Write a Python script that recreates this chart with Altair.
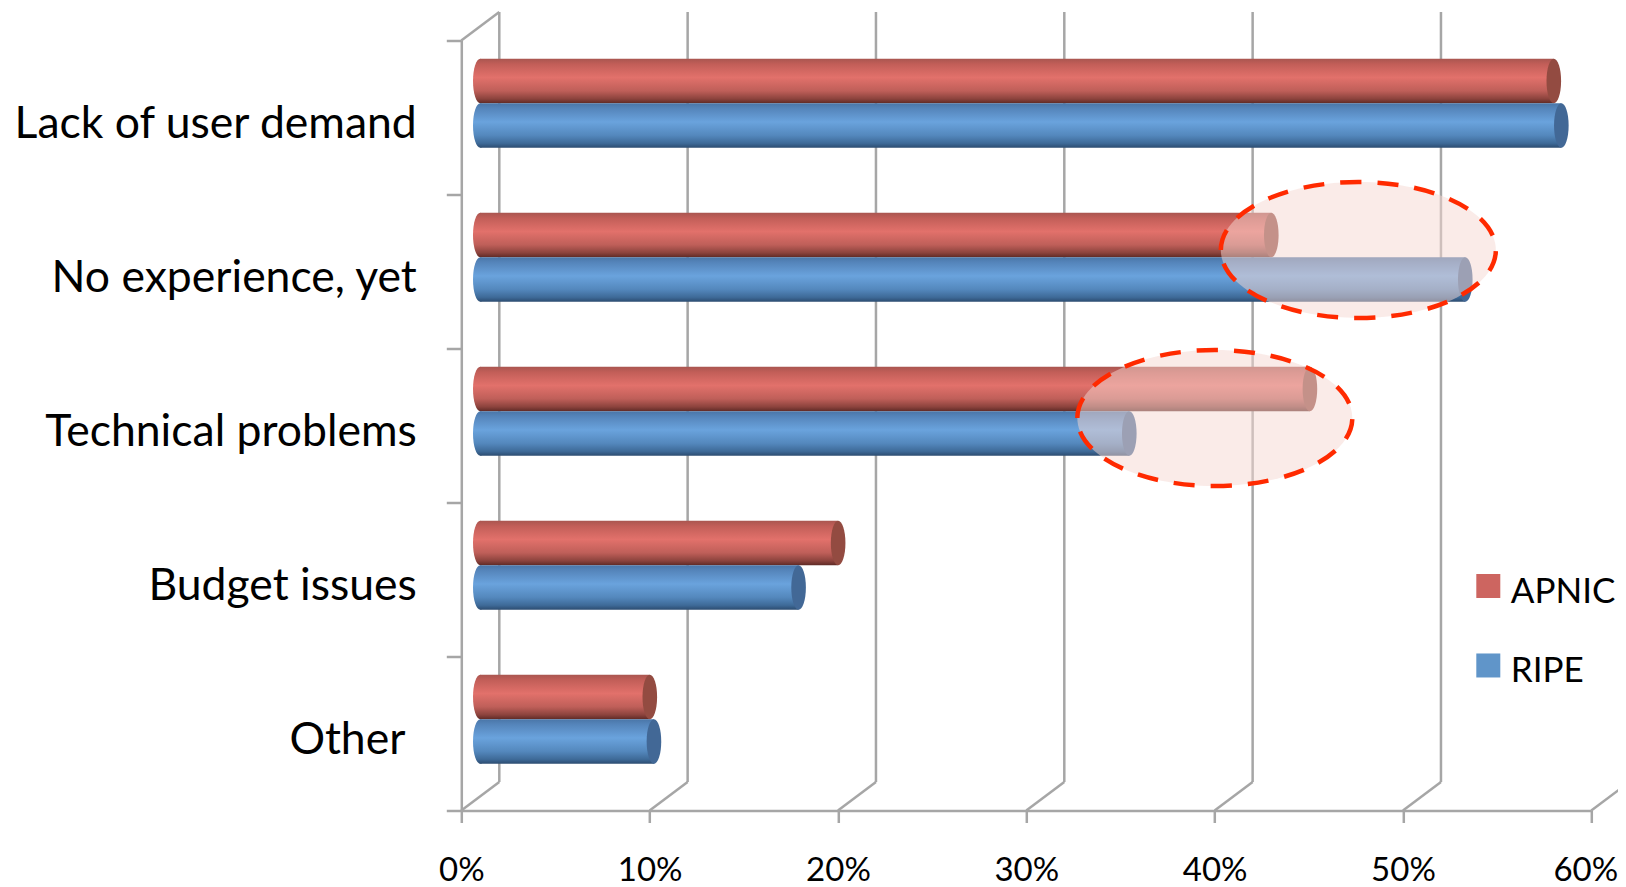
import altair as alt
import pandas as pd

categories = ["Lack of user demand", "No experience, yet", "Technical problems", "Budget issues", "Other"]
apnic = [0.570, 0.420, 0.4405, 0.190, 0.090]
ripe = [0.574, 0.523, 0.3446, 0.169, 0.0922]
series = ["APNIC", "RIPE"]
legend_colors = ["#cd6560", "#6095c9"]
ticks = [0, 0.1, 0.2, 0.3, 0.4, 0.5, 0.6]
highlight_x = [0.4763, 0.4001]

W, H = 1130, 770
DX, DY = 38, -28.5
BX, BY = DX / 2, DY / 2
BAR_H = 44.5
GRID = "#a6a6a6"
FONT = "Lato"
LW = 2.5

df = pd.DataFrame({"cat": categories, "APNIC": apnic, "RIPE": ripe})
tk = pd.DataFrame({"v": ticks})
X = alt.X("v:Q", scale=alt.Scale(domain=[0, 0.6], range=[0, W], nice=False), title=None,
          axis=alt.Axis(values=ticks, format=".0%", grid=False, domainColor=GRID, domainWidth=LW,
                        tickColor=GRID, tickWidth=LW, tickSize=12, labelFontSize=33, labelFont=FONT,
                        labelColor="#000000", labelPadding=32, labelFlush=False, labelOverlap=False,
                        labelOffset={"condition": {"test": "datum.value >= 0.6", "value": -6}, "value": 0}))
Y = alt.Y("cat:N", sort=categories, scale=alt.Scale(domain=categories, range=[0, H], paddingInner=0, paddingOuter=0), title=None,
          axis=alt.Axis(tickBand="extent", domainColor=GRID, domainWidth=LW, tickColor=GRID, tickWidth=LW,
                        tickSize=15, labelFontSize=44.5, labelFont=FONT, labelColor="#000000",
                        labelOffset=7, labelLimit=600,
                        labelPadding={"condition": {"test": "datum.value === 'Other'", "value": 41.4}, "value": 30}))


def grad(stops):
    return alt.LinearGradient(gradient="linear", x1=0, x2=0, y1=0, y2=1,
                              stops=[alt.GradientStop(offset=o, color=c) for o, c in stops])


red = grad([(0, "#a95650"), (0.12, "#c25e58"), (0.42, "#e2716b"), (0.72, "#bf5f59"), (0.9, "#8c433d"), (1, "#5f2a26")])
blue = grad([(0, "#4a76a8"), (0.12, "#5585bb"), (0.42, "#6aa3dd"), (0.72, "#5488bd"), (0.9, "#3e6a98"), (1, "#2c4c70")])
cap_red, cap_blue = "#934b41", "#426896"

CAP = "M0,-1A0.328,1 0 1,0 0,1A0.328,1 0 1,0 0,-1Z"
ELL = "M-1,0A1,0.4945 0 1,1 1,0A1,0.4945 0 1,1 -1,0Z"
LEGEND_SQUARE = "M-1,-1.46H1V0.54H-1Z"

base = alt.Chart(df)
tick_base = alt.Chart(tk)

layers = [
    tick_base.mark_rule(xOffset=DX, yOffset=DY, y2Offset=DY, color=GRID, strokeWidth=LW).encode(
        x=X, y=alt.value(0), y2=alt.value(H)),
    tick_base.mark_rule(x2Offset=DX, y2Offset=DY, color=GRID, strokeWidth=LW).encode(
        x=X, x2="v:Q", y=alt.value(H), y2=alt.value(H)),
    alt.Chart(pd.DataFrame({"v": [0]})).mark_rule(x2Offset=DX, y2Offset=DY, color=GRID, strokeWidth=LW).encode(
        x="v:Q", x2="v:Q", y=alt.value(0), y2=alt.value(0)),
]

for name, g, cap, off in [("APNIC", red, cap_red, -BAR_H / 2), ("RIPE", blue, cap_blue, BAR_H / 2)]:
    yo = BY + off
    layers += [
        base.mark_bar(height=BAR_H, fill=g, xOffset=BX, x2Offset=BX, yOffset=yo).encode(
            x=alt.X(f"{name}:Q", stack=None), x2=alt.datum(0), y=Y),
        base.mark_point(shape=CAP, size=BAR_H ** 2, filled=True, fill=g, opacity=1, strokeWidth=0,
                        xOffset=BX, yOffset=yo).encode(x=alt.datum(0), y=Y),
        base.mark_point(shape=CAP, size=BAR_H ** 2, filled=True, fill=cap, opacity=1, strokeWidth=0,
                        xOffset=BX, yOffset=yo).encode(x=alt.X(f"{name}:Q"), y=Y),
    ]

for cat, hx, yo in [(categories[1], highlight_x[0], -21.5), (categories[2], highlight_x[1], -7.5)]:
    layers.append(
        alt.Chart(pd.DataFrame({"cat": [cat], "hx": [hx]})).mark_point(
            shape=ELL, size=275 ** 2, filled=False, fill="#f5d7d1", fillOpacity=0.5, opacity=1,
            stroke="#ff2a00", strokeOpacity=1, strokeWidth=4.5, strokeDash=[21, 16], yOffset=yo).encode(
            x=alt.X("hx:Q"), y=Y)
    )

layers.append(
    alt.Chart(pd.DataFrame({"s": series})).mark_square(size=24 ** 2, opacity=0).encode(
        color=alt.Color("s:N", scale=alt.Scale(domain=series, range=legend_colors), title=None,
                        legend=alt.Legend(orient="none", legendX=1009.5, legendY=533.5, symbolType=LEGEND_SQUARE,
                                          symbolSize=576, symbolOpacity=1, symbolStrokeWidth=0,
                                          labelFontSize=35, labelFont=FONT, labelColor="#000000",
                                          rowPadding=42.5, labelOffset=5, labelLimit=200)))
)

chart = alt.layer(*layers).resolve_scale(color="independent").properties(
    width=W, height=H,
    padding={"left": 453.3, "top": 32.5, "right": 26.7, "bottom": 76},
    autosize=alt.AutoSizeParams(type="none"),
    background="#ffffff",
).configure_view(stroke=None)

chart.save("out.html", embed_options={"renderer": "svg", "actions": False})
